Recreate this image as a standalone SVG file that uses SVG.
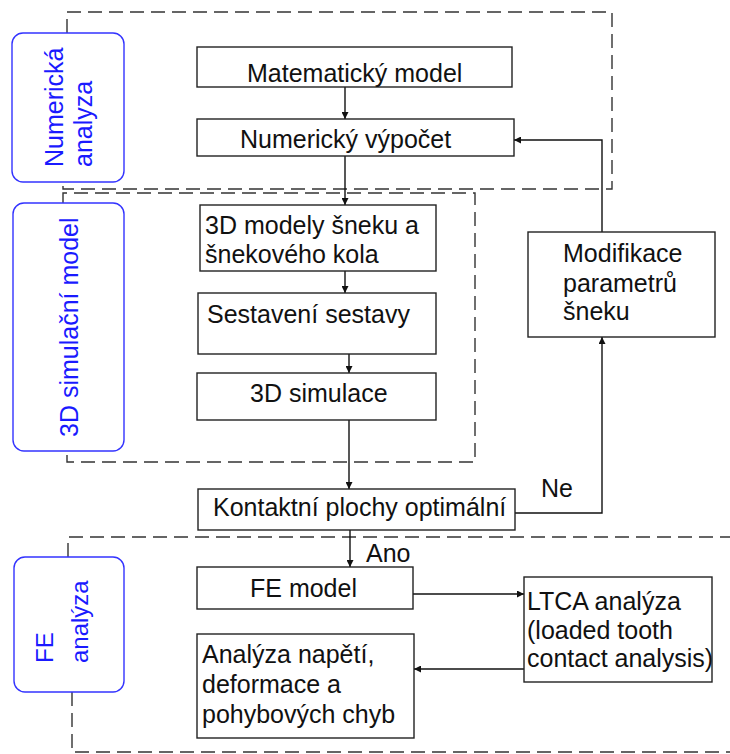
<svg xmlns="http://www.w3.org/2000/svg" width="730" height="754" viewBox="0 0 730 754">
<style>
.box{fill:#fff;stroke:#222;stroke-width:1.4}
.lbl{fill:#fff;stroke:#3333ff;stroke-width:1.4}
.dash{fill:none;stroke:#333;stroke-width:1.4;stroke-dasharray:14 7}
.t{font-family:"Liberation Sans",Arial,sans-serif;font-size:25px;fill:#111}
.b{font-family:"Liberation Sans",Arial,sans-serif;font-size:25px;fill:#1a1aff}
.c{fill:none;stroke:#111;stroke-width:1.4}
</style>
<defs>
<marker id="ah" viewBox="0 0 10 10" refX="10" refY="5" markerWidth="7" markerHeight="7" markerUnits="userSpaceOnUse" orient="auto"><path d="M0,0 L10,5 L0,10 z" fill="#111"/></marker>
</defs>
<g id="regions">
<path class="dash" d="M67,33 V12 H612 V189 H63 V182"/>
<path class="dash" d="M63,203 V193 H475 V462 H67 V451"/>
<path class="dash" d="M68,557 V537 H730"/>
<path class="dash" d="M72,692 V752 H730"/>
</g>
<g id="lbl-num">
<rect class="lbl" x="12" y="33" width="112" height="149" rx="11"/>
<text class="b" transform="translate(63,167) rotate(-90)">Numerická</text>
<text class="b" transform="translate(92,167) rotate(-90)">analyza</text>
</g>
<g id="lbl-3d">
<rect class="lbl" x="13" y="203" width="111" height="248" rx="11"/>
<text class="b" transform="translate(78,437) rotate(-90)">3D simulační model</text>
</g>
<g id="lbl-fe">
<rect class="lbl" x="14" y="557" width="110" height="135" rx="11"/>
<text class="b" style="font-size:24px" transform="translate(53,663) rotate(-90)">FE</text>
<text class="b" style="font-size:24px" transform="translate(88,663) rotate(-90)">analýza</text>
</g>
<g id="connectors">
<path class="c" d="M345,87 V119" marker-end="url(#ah)"/>
<path class="c" d="M345,156 V205" marker-end="url(#ah)"/>
<path class="c" d="M345,271 V293" marker-end="url(#ah)"/>
<path class="c" d="M349,354 V373" marker-end="url(#ah)"/>
<path class="c" d="M349,420 V489" marker-end="url(#ah)"/>
<path class="c" d="M350,530 V567" marker-end="url(#ah)"/>
<path class="c" d="M515,513 H602 V337" marker-end="url(#ah)"/>
<path class="c" d="M602,232 V140 H514" marker-end="url(#ah)"/>
<path class="c" d="M413,594 H524" marker-end="url(#ah)"/>
<path class="c" d="M524,669 H414" marker-end="url(#ah)"/>
<text class="t" x="541" y="497">Ne</text>
<text class="t" x="366" y="562">Ano</text>
</g>
<g id="n-mat">
<rect class="box" x="197" y="47" width="315" height="40"/>
<text class="t" x="247" y="82">Matematický model</text>
</g>
<g id="n-numv">
<rect class="box" x="197" y="119" width="317" height="37"/>
<text class="t" x="240" y="148">Numerický výpočet</text>
</g>
<g id="n-3dm">
<rect class="box" x="200" y="205" width="236" height="66"/>
<text class="t" x="205" y="234">3D modely šneku a</text>
<text class="t" x="205" y="263">šnekového kola</text>
</g>
<g id="n-ses">
<rect class="box" x="198" y="293" width="238" height="61"/>
<text class="t" x="207" y="323">Sestavení sestavy</text>
</g>
<g id="n-3ds">
<rect class="box" x="197" y="373" width="239" height="47"/>
<text class="t" x="250" y="402">3D simulace</text>
</g>
<g id="n-mod">
<rect class="box" x="528" y="232" width="187" height="105"/>
<text class="t" x="563" y="262">Modifikace</text>
<text class="t" x="563" y="292">parametrů</text>
<text class="t" x="563" y="320">šneku</text>
</g>
<g id="n-kon">
<rect class="box" x="198" y="489" width="317" height="41"/>
<text class="t" x="213" y="516">Kontaktní plochy optimální</text>
</g>
<g id="n-fem">
<rect class="box" x="197" y="567" width="216" height="42"/>
<text class="t" x="250" y="597">FE model</text>
</g>
<g id="n-ltca">
<rect class="box" x="524" y="577" width="188" height="105"/>
<text class="t" x="527" y="610">LTCA analýza</text>
<text class="t" x="527" y="639">(loaded tooth</text>
<text class="t" x="527" y="667">contact analysis)</text>
</g>
<g id="n-ana">
<rect class="box" x="197" y="634" width="217" height="104"/>
<text class="t" x="202" y="663">Analýza napětí,</text>
<text class="t" x="202" y="693">deformace a</text>
<text class="t" x="202" y="723">pohybových chyb</text>
</g>
</svg>
